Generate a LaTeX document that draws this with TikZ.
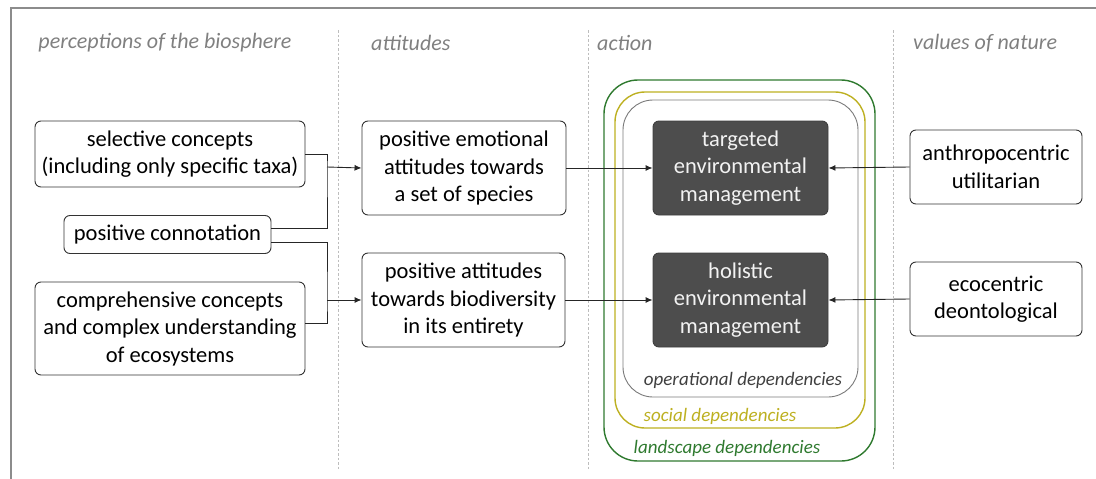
\documentclass[tikz,border=0pt]{standalone}
\usepackage{fontspec}
\setmainfont{Carlito}
\usetikzlibrary{arrows.meta}
\definecolor{hdr}{HTML}{808080}
\definecolor{dashc}{HTML}{BDBDBD}
\definecolor{darkbox}{HTML}{4D4D4D}
\definecolor{grn}{HTML}{2F7A2F}
\definecolor{ylw}{HTML}{BDB021}
\definecolor{opg}{HTML}{7A7A7A}
\definecolor{frm}{HTML}{8C8C8C}
\tikzset{
  lbox/.style={draw=black!80, line width=0.9pt, rounded corners=6pt, align=center, font=\fontsize{22.5}{27.5}\selectfont, inner sep=0pt},
  dbox/.style={lbox, fill=darkbox, draw=darkbox!80!black, text=white!95!black},
  hdrtxt/.style={font=\fontsize{22}{26}\selectfont\itshape, text=hdr, inner sep=0pt},
  deptxt/.style={font=\fontsize{19}{22}\selectfont\itshape, inner sep=0pt},
  sep/.style={dashc, line width=0.8pt, dash pattern=on 2.5pt off 2pt},
  conn/.style={line width=0.9pt, black!85},
  arr/.style={conn, -{Latex[length=7pt,width=6pt]}},
}
\begin{document}
\begin{tikzpicture}[x=1pt,y=-1pt]
\useasboundingbox (0,0) rectangle (1096,479);
% frame
\draw[frm, line width=1.6pt] (11,479) -- (11,8) -- (1096,8);
% separators
\foreach \xx in {338,588,893} \draw[sep] (\xx,30) -- (\xx,470);
% headers
\node[hdrtxt] (h1) at (165,43) {perceptions of the biosphere};
\node[hdrtxt, anchor=west] (h2) at (371,43) {attitudes};
\node[hdrtxt, anchor=west] (h3) at (597,43) {action};
\node[hdrtxt, anchor=west] (h4) at (913,43) {values of nature};
% containers
\draw[grn, line width=1.4pt, rounded corners=34pt] (604,80) rectangle (875,461);
\draw[ylw, line width=1.4pt, rounded corners=30pt] (615,92) rectangle (865,428);
\draw[opg, line width=0.9pt, rounded corners=30pt] (623,100) rectangle (858,397);
\node[deptxt, text=black!75] (opd) at (743,380) {operational dependencies};
\node[deptxt, text=ylw] (sod) at (720,416) {social dependencies};
\node[deptxt, text=grn] (lad) at (727,448) {landscape dependencies};
% boxes
\node[lbox, minimum width=270pt, minimum height=66pt] (sel) at (170,154) {selective concepts\\(including only specific taxa)};
\node[lbox, minimum width=207pt, minimum height=38pt] (con) at (167.5,234.5) {positive connotation};
\node[lbox, minimum width=270pt, minimum height=93pt] (comp) at (170,328.5) {comprehensive concepts\\and complex understanding\\of ecosystems};
\node[lbox, minimum width=204pt, minimum height=94pt] (emo) at (464,168) {positive emotional\\attitudes towards\\a set of species};
\node[lbox, minimum width=203pt, minimum height=94pt] (bio) at (463.5,300) {positive attitudes\\towards biodiversity\\in its entirety};
\node[dbox, minimum width=175pt, minimum height=94pt] (tar) at (740.5,168) {targeted\\environmental\\management};
\node[dbox, minimum width=175pt, minimum height=94pt] (hol) at (740.5,300) {holistic\\environmental\\management};
\node[lbox, minimum width=172pt, minimum height=74pt] (anth) at (996,167) {anthropocentric\\utilitarian};
\node[lbox, minimum width=172pt, minimum height=74pt] (eco) at (996,299) {ecocentric\\deontological};
% junctions
\coordinate (ja) at (327,167);
\coordinate (jb) at (327,300);
\coordinate (c1) at ([yshift=6.5pt]con.east);
\coordinate (c2) at ([yshift=-7.5pt]con.east);
\coordinate (c3) at ([yshift=5.5pt]comp.east);
\draw[conn] (sel.east) -| (ja) |- (c1);
\draw[conn] (c2) -| (jb) |- (c3);
\draw[arr] (ja) -- (emo.west);
\draw[arr] (jb) -- (bio.west);
\draw[arr] (emo.east) -- (tar.west);
\draw[arr] (bio.east) -- (hol.west);
\draw[arr] (anth.west) -- (tar.east);
\draw[arr] (eco.west) -- (hol.east);
\end{tikzpicture}
\end{document}
